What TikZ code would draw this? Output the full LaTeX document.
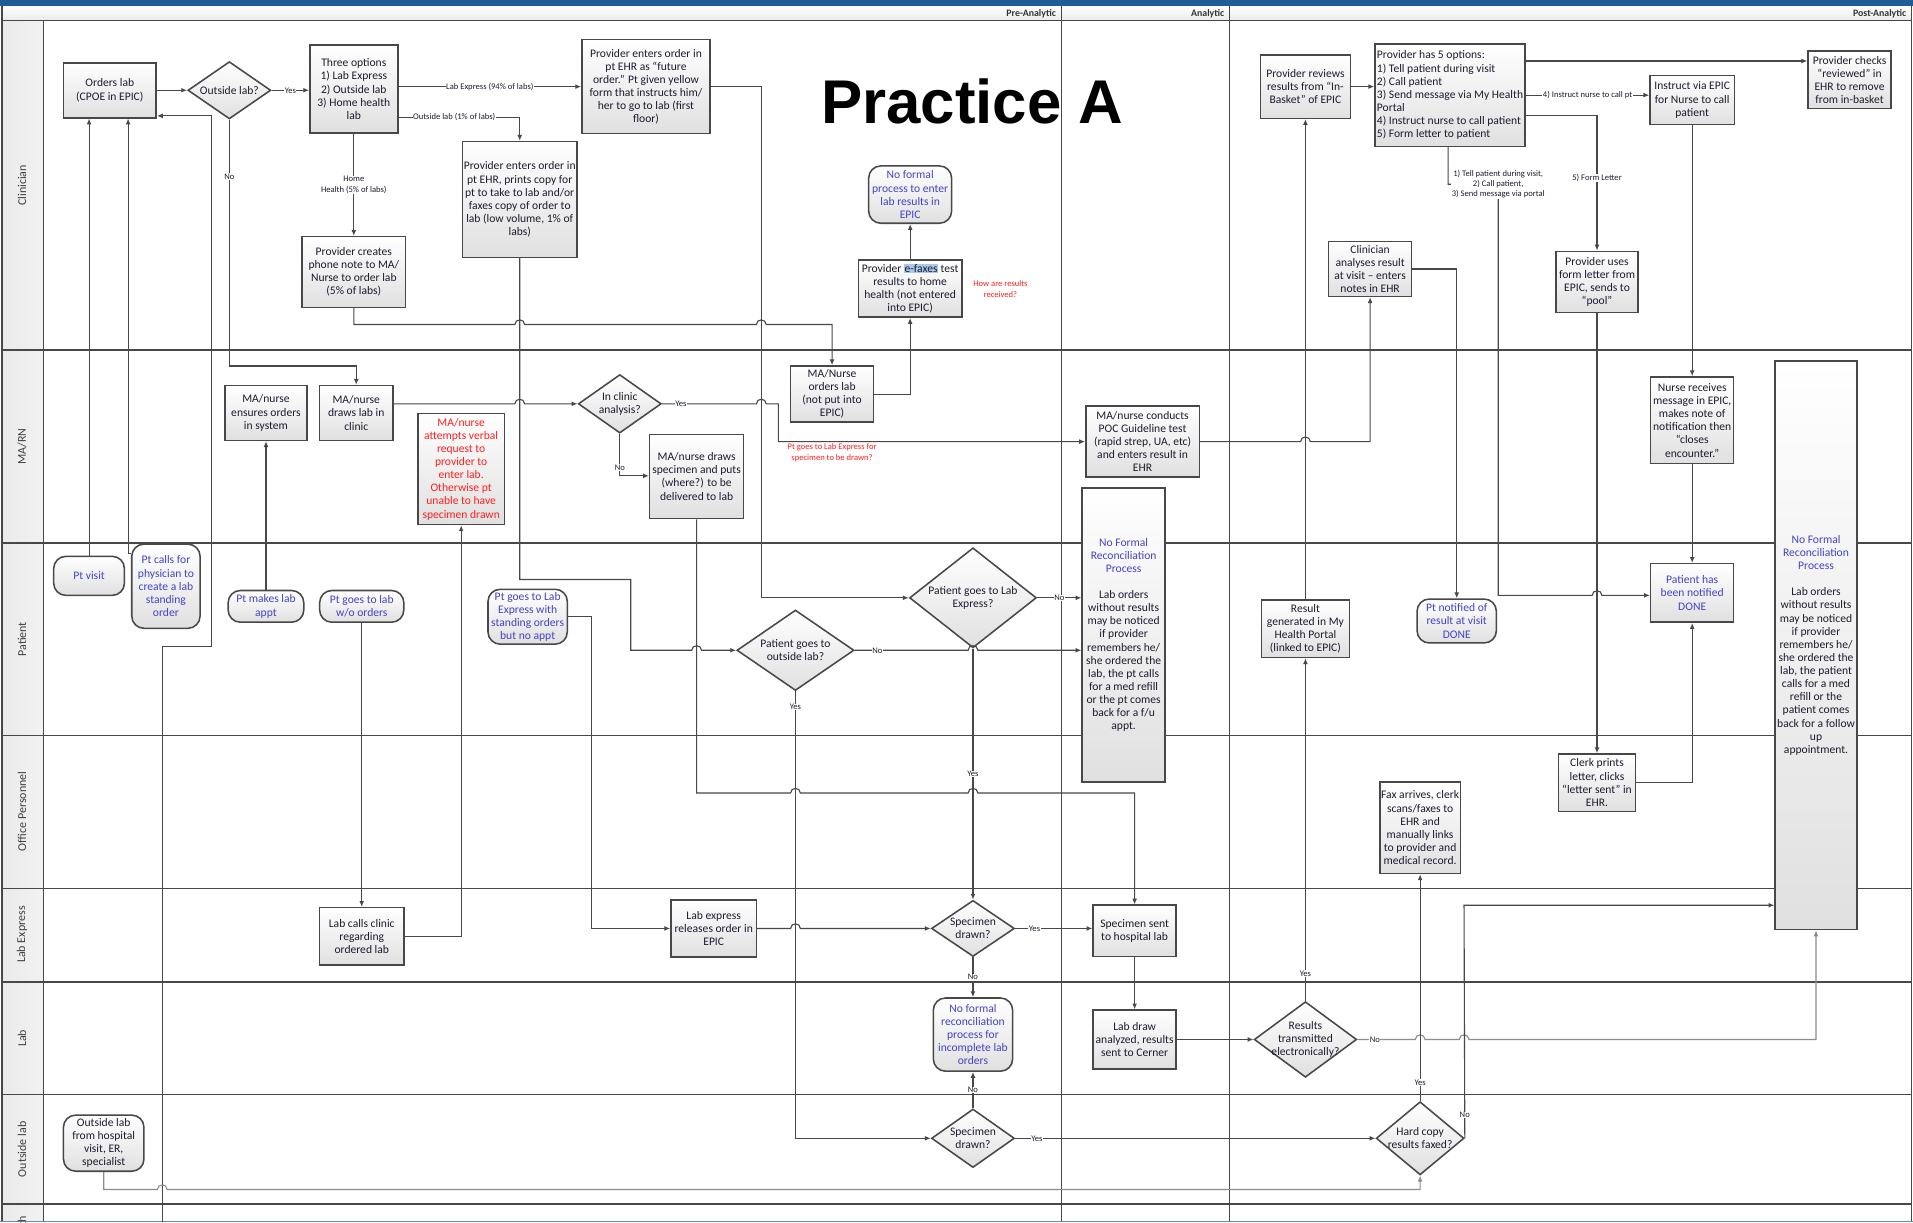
\documentclass[tikz,border=0pt]{standalone}
\usepackage{fontspec}
\setmainfont{Carlito}
\newfontfamily\titlefont{Liberation Sans}
\usetikzlibrary{shapes.geometric,arrows.meta}

\definecolor{barblue}{HTML}{1F5C99}
\definecolor{edgegray}{HTML}{484848}
\definecolor{ink}{HTML}{1C1C30}
\definecolor{bluetxt}{HTML}{4343C6}
\definecolor{redtxt}{HTML}{FF1F1F}
\definecolor{boxshade}{HTML}{E0E0E0}
\definecolor{lanefill}{HTML}{EAEAEA}
\definecolor{hilite}{HTML}{A9C9E6}

\setlength{\fboxsep}{0.6pt}
\newcommand{\boxfont}{\fontsize{13.5}{15.3}\selectfont}
\newcommand{\edgefont}{\fontsize{10}{12}\selectfont}
\newcommand{\blu}[1]{\textcolor{bluetxt}{#1}}

\tikzset{
  sz/.style 2 args={minimum width=#1*0.5mm, minimum height=#2*0.5mm},
  box/.style={draw=edgegray, line width=1.8pt, top color=white, bottom color=boxshade, text=ink, font=\boxfont, align=center, inner sep=1pt},
  term/.style={box, rounded corners=5mm, text=bluetxt},
  decide/.style={diamond, draw=edgegray, line width=1.8pt, top color=white, bottom color=boxshade, inner sep=0pt},
  dtext/.style={font=\boxfont, text=ink, align=center},
  elabel/.style={font=\edgefont, text=ink, fill=white, inner sep=0.6pt, align=center},
  note/.style={font=\edgefont, text=redtxt, align=center},
  lane/.style={rotate=90, font=\fontsize{14}{16}\selectfont, text=black!75},
  phase/.style={anchor=east, font=\fontsize{11.5}{13}\selectfont\bfseries, text=black!80},
  flow/.style={->, edgegray, line width=1.3pt},
  faint/.style={->, black!45, line width=1.3pt}
}

\begin{document}
\begin{tikzpicture}[x=0.5mm, y=-0.5mm, >={Latex[length=2.4mm, width=2mm]}]

\useasboundingbox (0,0) rectangle (1568,1002);
\fill [white] (0,0) rectangle (1568,1002);
\fill [barblue] (0,0) rectangle (1568,5);
\fill [barblue!70] (0,1000.5) rectangle (1568,1002);
\fill [top color=white, bottom color=lanefill] (1.5,5) rectangle (1567,17);
\fill [left color=lanefill, right color=white!95!black] (1.5,17) rectangle (35.5,1000.5);

\draw [edgegray, line width=1.6pt] (1.5,17) -- (1567,17) (1.5,287) -- (1567,287) (1.5,445) -- (1567,445) (1.5,603) -- (1567,603) (1.5,728) -- (1567,728) (1.5,805) -- (1567,805) (1.5,897) -- (1567,897) (1.5,987) -- (1567,987);
\draw [edgegray, line width=1.6pt] (1.5,5) -- (1.5,1000.5) (35.5,17) -- (35.5,1000.5) (870,5) -- (870,1000.5) (1008,5) -- (1008,1000.5) (1567,5) -- (1567,1000.5);

\node [phase] (phPre) at (868,11) {Pre-Analytic};
\node [phase] (phAna) at (1006,11) {Analytic};
\node [phase] (phPost) at (1565,11) {Post-Analytic};

\node [lane] (lnClin) at (18,152) {Clinician};
\node [lane] (lnMa) at (18,366) {MA/RN};
\node [lane] (lnPat) at (18,524) {Patient};
\node [lane] (lnOff) at (18,665) {Office Personnel};
\node [lane] (lnLabEx) at (18,766) {Lab Express};
\node [lane] (lnLab) at (18,851) {Lab};
\node [lane] (lnOut) at (18,942) {Outside lab};
\begin{scope}
\clip (1.5,987) rectangle (35.5,1002);
\node [lane] (lnHome) at (18,1023) {Home Health};
\end{scope}

\node [font=\titlefont\fontsize{72}{80}\selectfont\bfseries] (title) at (797,83) {Practice A};

\node [box, sz={76}{45}] (orders) at (90,74) {Orders lab\\(CPOE in EPIC)};
\node [decide, sz={68}{47}, label={[dtext]center:{Outside lab?}}] (outq) at (188,74) {};
\node [box, sz={72}{72}] (three) at (290,73) {Three options\\1) Lab Express\\2) Outside lab\\3) Home health\\lab};
\node [box, sz={105}{77}] (provEHR) at (529.5,71) {Provider enters order in\\pt EHR as “future\\order.” Pt given yellow\\form that instructs him/\\her to go to lab (first\\floor)};
\node [box, sz={94}{95}] (provOut) at (426,163.5) {Provider enters order in\\pt EHR, prints copy for\\pt to take to lab and/or\\faxes copy of order to\\lab (low volume, 1\% of\\labs)};
\node [box, sz={85}{58}] (phone) at (290,223) {Provider creates\\phone note to MA/\\Nurse to order lab\\(5\% of labs)};
\node [term, sz={68}{47}] (nofmEpic) at (746,159.5) {No formal\\process to enter\\lab results in\\EPIC};
\node [box, sz={85}{47}] (efax) at (746,236.5) {Provider \colorbox{hilite}{e-faxes} test\\results to home\\health (not entered\\into EPIC)};
\node [note] (howRec) at (820,237) {How are results\\received?};

\node [box, sz={74}{52}] (review) at (1070,71) {Provider reviews\\results from “In-\\Basket” of EPIC};
\node [box, sz={123}{84}, align=left] (fiveOpt) at (1188.5,78) {Provider has 5 options:\\1) Tell patient during visit\\2) Call patient\\3) Send message via My Health\\Portal\\4) Instruct nurse to call patient\\5) Form letter to patient};
\node [box, sz={69}{40}] (instruct) at (1387,82) {Instruct via EPIC\\for Nurse to call\\patient};
\node [box, sz={68}{47}] (checks) at (1516,65.5) {Provider checks\\“reviewed” in\\EHR to remove\\from in-basket};
\node [box, sz={68}{45}] (clinAn) at (1123,220.5) {Clinician\\analyses result\\at visit – enters\\notes in EHR};
\node [box, sz={67}{50}] (formLet) at (1309,231) {Provider uses\\form letter from\\EPIC, sends to\\“pool”};

\node [box, sz={67}{45}] (ensures) at (218,338.5) {MA/nurse\\ensures orders\\in system};
\node [box, sz={60}{45}] (draws) at (292,338.5) {MA/nurse\\draws lab in\\clinic};
\node [box, sz={71}{91}, text=redtxt] (verbal) at (378,384.5) {MA/nurse\\attempts verbal\\request to\\provider to\\enter lab.\\Otherwise pt\\unable to have\\specimen drawn};
\node [decide, sz={68}{48}, label={[dtext]center:{In clinic\\analysis?}}] (inClinic) at (508,331) {};
\node [box, sz={68}{46}] (maOrders) at (682,323) {MA/Nurse\\orders lab\\(not put into\\EPIC)};
\node [box, sz={77}{69}] (maDraws) at (571,390.5) {MA/nurse draws\\specimen and puts\\(where?) to be\\delivered to lab};
\node [note] (askLE) at (682,371) {Pt goes to Lab Express for\\specimen to be drawn?};
\node [box, sz={93}{58}] (poc) at (936.5,362) {MA/nurse conducts\\POC Guideline test\\(rapid strep, UA, etc)\\and enters result in\\EHR};
\node [box, sz={68}{71}] (nurseRec) at (1387,344.5) {Nurse receives\\message in EPIC,\\makes note of\\notification then\\“closes\\encounter.”};

\node [box, sz={68}{241}] (noRecA) at (921,520.5) {\blu{No Formal}\\\blu{Reconciliation}\\\blu{Process}\\[15pt]Lab orders\\without results\\may be noticed\\if provider\\remembers he/\\she ordered the\\lab, the pt calls\\for a med refill\\or the pt comes\\back for a f/u\\appt.};
\node [term, sz={58}{32}] (ptVisit) at (73,472) {Pt visit};
\node [term, sz={56}{69}] (ptCalls) at (136,480.5) {Pt calls for\\physician to\\create a lab\\standing\\order};
\node [term, sz={62}{26}] (ptAppt) at (218,497) {Pt makes lab\\appt};
\node [term, sz={69}{26}] (ptNoOrd) at (296.5,497) {Pt goes to lab\\w/o orders};
\node [term, sz={65}{45}] (ptLabEx) at (432.5,505.5) {Pt goes to Lab\\Express with\\standing orders\\but no appt};
\node [decide, sz={96}{66}, label={[dtext]center:{Patient goes to\\outside lab?}}] (goOut) at (652,533) {};
\node [decide, sz={104}{82}, label={[dtext]center:{Patient goes to Lab\\Express?}}] (goLabEx) at (797.5,490) {};
\node [box, sz={72}{47}] (resGen) at (1070,515.5) {Result\\generated in My\\Health Portal\\(linked to EPIC)};
\node [term, sz={65}{36}] (ptNotified) at (1194,509) {Pt notified of\\result at visit\\DONE};
\node [box, sz={68}{48}, text=bluetxt] (notified) at (1387,486) {Patient has\\been notified\\DONE};
\node [box, sz={67}{466}] (noRecB) at (1488.5,529) {\blu{No Formal}\\\blu{Reconciliation}\\\blu{Process}\\[15pt]Lab orders\\without results\\may be noticed\\if provider\\remembers he/\\she ordered the\\lab, the patient\\calls for a med\\refill or the\\patient comes\\back for a follow\\up\\appointment.};

\node [box, sz={63}{47}] (clerk) at (1309,641.5) {Clerk prints\\letter, clicks\\“letter sent” in\\EHR.};
\node [box, sz={66}{75}] (fax) at (1164,678.5) {Fax arrives, clerk\\scans/faxes to\\EHR and\\manually links\\to provider and\\medical record.};

\node [box, sz={69}{47}] (labCalls) at (296.5,767.5) {Lab calls clinic\\regarding\\ordered lab};
\node [box, sz={70}{47}] (labExRel) at (585,761) {Lab express\\releases order in\\EPIC};
\node [decide, sz={68}{46}, label={[dtext]center:{Specimen\\drawn?}}] (specA) at (797.5,761) {};
\node [box, sz={68}{42}] (specSent) at (930,763) {Specimen sent\\to hospital lab};

\node [term, sz={65}{60}] (noRecLab) at (797.5,848) {No formal\\reconciliation\\process for\\incomplete lab\\orders};
\node [box, sz={68}{48}] (labDraw) at (930,852) {Lab draw\\analyzed, results\\sent to Cerner};
\node [decide, sz={84}{62}, label={[dtext]center:{Results\\transmitted\\electronically?}}] (resTrans) at (1070,852) {};

\node [term, sz={66}{46}, text=ink] (outLab) at (85,937) {Outside lab\\from hospital\\visit, ER,\\specialist};
\node [decide, sz={68}{48}, label={[dtext]center:{Specimen\\drawn?}}] (specB) at (797.5,933) {};
\node [decide, sz={72}{60}, label={[dtext]center:{Hard copy\\results faxed?}}] (hardCopy) at (1164,933) {};

\coordinate (hhEnd) at (133,1002);

\draw [flow] (orders) -- (outq);
\draw [flow] (outq.east) -- node [elabel] {Yes} (outq.east -| three.west);
\draw [flow] (three.east |- provEHR.west) -- node [elabel] {Lab Express (94\% of labs)} (provEHR.west);
\draw [flow] (three.east |- 0,96) -- node [elabel, pos=0.46] {Outside lab (1\% of labs)} (426,96) -- (provOut.north);
\draw [flow] (three) -- node [elabel] {Home\\Health (5\% of labs)} (phone);
\draw [flow] (provEHR.east) -| (624,490) -- (goLabEx.west);
\draw [flow] (provOut.south) -- (426,475) -- (517,475) -- (517,533) -- (567,533) .. controls +(0,-5) and +(0,-5) .. (575,533) -- (goOut.west);
\draw [flow] (phone.south) -- (290,266) -- (422,266) .. controls +(0,-5) and +(0,-5) .. (430,266) -- (620,266) .. controls +(0,-5) and +(0,-5) .. (628,266) -- (682,266) -- (maOrders.north);
\draw [flow] (efax) -- (nofmEpic);
\draw [flow] (maOrders.east) -| (efax.south);
\draw [flow] (outq.south) -- node [elabel, pos=0.23] {No} (188,300) -| (draws.north);
\draw [flow] (draws.east |- 0,331) -- (422,331) .. controls +(0,-5) and +(0,-5) .. (430,331) -- (inClinic.west);
\draw [flow] (inClinic.east) -- node [elabel, pos=0.2] {Yes} (620,331) .. controls +(0,-5) and +(0,-5) .. (628,331) -- (638,331) -- (638,362) -- (poc.west);
\draw [flow] (inClinic.south) -- node [elabel, pos=0.8] {No} (508,390) -- (maDraws.west |- 0,390);
\draw [flow] (maDraws.south) -- (571,650) -- (648,650) .. controls +(0,-5) and +(0,-5) .. (656,650) -- (793.5,650) .. controls +(0,-5) and +(0,-5) .. (801.5,650) -- (930,650) -- (specSent.north);

\draw [flow] (ptVisit) -- (ptVisit |- orders.south);
\draw [flow] (ptCalls.west |- 0,454) -| (orders.south -| 105,0);
\draw [flow] (hhEnd) -- (133,530) -- (173,530) -- (173,95) -- (orders.east |- 0,95);
\draw [flow] (ptAppt) -- (ensures);
\draw [flow] (ptNoOrd) -- (labCalls);
\draw [flow] (ptLabEx.east) -| (485,761) -- (labExRel.west);
\draw [flow] (labCalls.east) -| (verbal.south);
\draw [flow] (labExRel.east) -- (648,761) .. controls +(0,-5) and +(0,-5) .. (656,761) -- (specA.west);
\draw [flow] (specA.east) -- node [elabel, pos=0.25] {Yes} (specSent.west |- specA.east);
\draw [flow] (goLabEx) -- node [elabel] {Yes} (specA);
\draw [flow] (goLabEx) -- node [elabel] {No} (noRecA.west |- goLabEx.east);
\draw [flow] (goOut.east) -- node [elabel, pos=0.2] {No} (793.5,533) .. controls +(0,-5) and +(0,-5) .. (801.5,533) -- (noRecA.west |- goOut.east);
\draw [flow] (goOut.south) -- node [elabel, pos=0.035] {Yes} (652,933) -- (specB.west);
\draw [flow] (specA) -- node [elabel] {No} (noRecLab);
\draw [flow] (specB) -- node [elabel] {No} (noRecLab);
\draw [flow] (specB) -- node [elabel, pos=0.06] {Yes} (hardCopy);
\draw [flow] (specSent) -- (labDraw);
\draw [flow] (labDraw) -- (resTrans);
\draw [flow] (resTrans) -- node [elabel, pos=0.08] {Yes} (resGen);
\draw [faint] (resTrans.east) -- node [elabel, pos=0.3] {No} (1160,852) .. controls +(0,-5) and +(0,-5) .. (1168,852) -- (1196,852) .. controls +(0,-5) and +(0,-5) .. (1204,852) -- (1488.5,852) -- (noRecB.south);
\draw [flow] (hardCopy) -- node [elabel, pos=0.08] {Yes} (fax);
\draw [flow] (hardCopy.east) -- node [elabel, pos=0.1] {No} (1200,742) -- (noRecB.west |- 0,742);
\draw [faint] (outLab.south) -- (85,975) -- (129,975) .. controls +(0,-5) and +(0,-5) .. (137,975) -- (1164,975) -- (hardCopy.south);

\draw [flow] (resGen) -- (review);
\draw [flow] (poc.east) -- (1066,362) .. controls +(0,-5) and +(0,-5) .. (1074,362) -- (1123,362) -- (clinAn.south);
\draw [flow] (clinAn.east) -| (ptNotified.north);
\draw [flow] (review.east) -- (fiveOpt.west |- review.east);
\draw [flow] (fiveOpt.east |- 0,50) -- (checks.west |- 0,50);
\draw [flow] (fiveOpt.east |- 0,78) -- node [elabel] {4) Instruct nurse to call pt} (instruct.west |- 0,78);
\draw [flow] (fiveOpt.east |- 0,95) -| node [elabel, pos=0.73] {5) Form Letter} (formLet.north);
\draw [flow] (fiveOpt.south -| 1187,0) -- (1187,151) -- (1228,151) node [elabel] {1) Tell patient during visit,\\2) Call patient,\\3) Send message via portal} -- (1228,488) -- (1305,488) .. controls +(0,-5) and +(0,-5) .. (1313,488) -- (notified.west |- 0,488);
\draw [flow] (formLet) -- (clerk);
\draw [flow] (clerk.east) -| (notified.south);
\draw [flow] (instruct) -- (nurseRec);
\draw [flow] (nurseRec) -- (notified);

\end{tikzpicture}
\end{document}
